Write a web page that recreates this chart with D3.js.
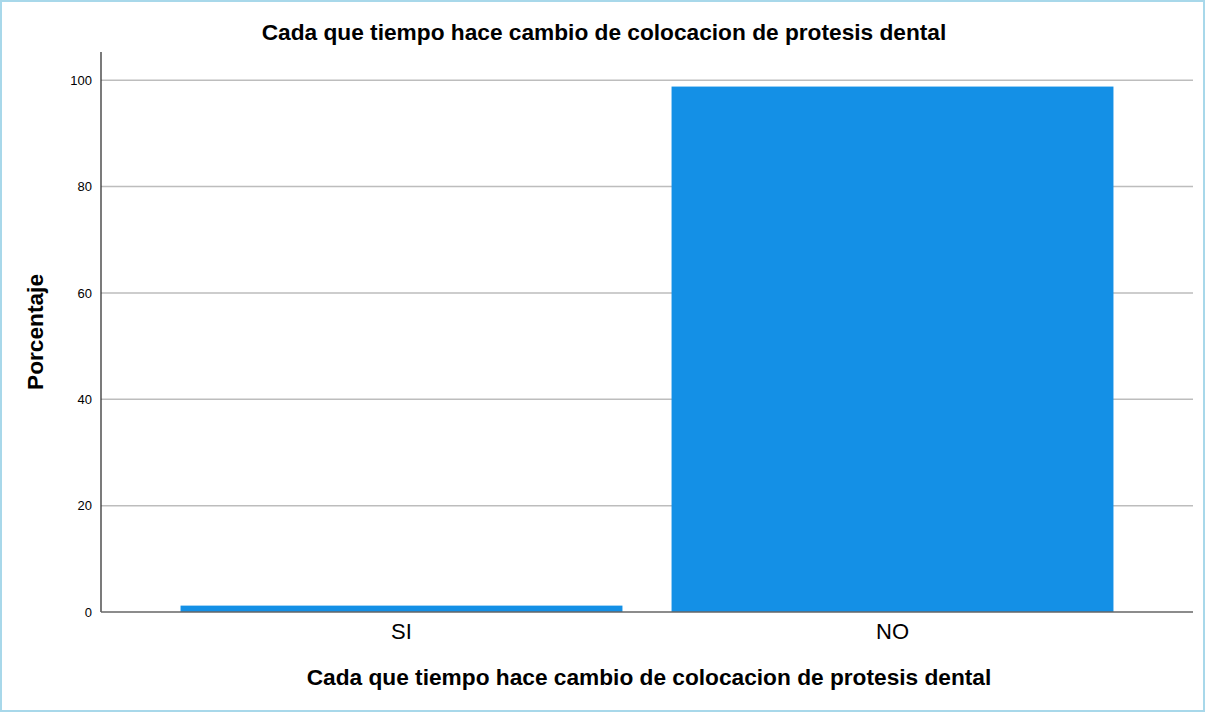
<!DOCTYPE html>
<html>
<head>
<meta charset="utf-8">
<script src="https://cdn.jsdelivr.net/npm/d3@7"></script>
<style>
  html, body { margin: 0; padding: 0; background: #fff; }
  svg { display: block; }
  text { font-family: "Liberation Sans", Arial, sans-serif; fill: #000; }
</style>
</head>
<body>
<svg id="chart" width="1205" height="713"></svg>
<script>
const categories = ["SI", "NO"];
const values = [1.2, 98.8];
const yTicks = [0, 20, 40, 60, 80, 100];
const title = "Cada que tiempo hace cambio de colocacion de protesis dental";
const xTitle = "Cada que tiempo hace cambio de colocacion de protesis dental";
const yTitle = "Porcentaje";

const W = 1205, H = 713;
const svg = d3.select("#chart");
const plot = { left: 101, right: 1193, top: 52, bottom: 612 };

// frame border
svg.append("rect").attr("x", 1).attr("y", 1).attr("width", W - 2).attr("height", H - 3)
  .attr("fill", "none").attr("stroke", "#a8d8ea").attr("stroke-width", 2);

const x = d3.scaleBand().domain(categories).range([plot.left, plot.right])
  .paddingInner(0.1).paddingOuter(0.162);
const y = d3.scaleLinear().domain([0, 105.3]).range([plot.bottom, plot.top]);

// gridlines
svg.append("g").selectAll("line").data(yTicks.filter(d => d > 0)).join("line")
  .attr("x1", plot.left).attr("x2", plot.right)
  .attr("y1", d => y(d)).attr("y2", d => y(d))
  .attr("stroke", "#bdbdbd").attr("stroke-width", 1.5);

// bars
svg.append("g").selectAll("rect").data(categories).join("rect")
  .attr("x", d => x(d)).attr("width", x.bandwidth())
  .attr("y", (d, i) => y(values[i])).attr("height", (d, i) => y(0) - y(values[i]))
  .attr("fill", "#1490e6");

// y axis
const yAxis = svg.append("g").attr("transform", `translate(${plot.left},0)`)
  .call(d3.axisLeft(y).tickValues(yTicks).tickSize(0).tickPadding(9));
yAxis.select(".domain").remove();
yAxis.selectAll("text").attr("font-size", 13).attr("font-family", "Liberation Sans, Arial, sans-serif").attr("fill", "#000");
svg.append("line").attr("x1", plot.left).attr("x2", plot.left)
  .attr("y1", plot.top).attr("y2", plot.bottom).attr("stroke", "#333").attr("stroke-width", 1.3);

// x axis
const xAxis = svg.append("g").attr("transform", `translate(0,${plot.bottom})`)
  .call(d3.axisBottom(x).tickSize(0));
xAxis.select(".domain").remove();
xAxis.selectAll("text").attr("y", 27).attr("dy", 0).attr("font-size", 22)
  .attr("font-family", "Liberation Sans, Arial, sans-serif").attr("fill", "#000");
svg.append("line").attr("x1", plot.left).attr("x2", plot.right)
  .attr("y1", plot.bottom).attr("y2", plot.bottom).attr("stroke", "#666").attr("stroke-width", 1.5);

// titles
svg.append("text").attr("x", 604).attr("y", 40).attr("text-anchor", "middle")
  .attr("font-size", 22.7).attr("font-weight", "bold").text(title);
svg.append("text").attr("x", (plot.left + plot.right) / 2 + 2).attr("y", 685).attr("text-anchor", "middle")
  .attr("font-size", 22.7).attr("font-weight", "bold").text(xTitle);
svg.append("text").attr("transform", `translate(43,${(plot.top + plot.bottom) / 2}) rotate(-90)`)
  .attr("text-anchor", "middle").attr("font-size", 22.7).attr("font-weight", "bold").text(yTitle);
</script>
</body>
</html>
